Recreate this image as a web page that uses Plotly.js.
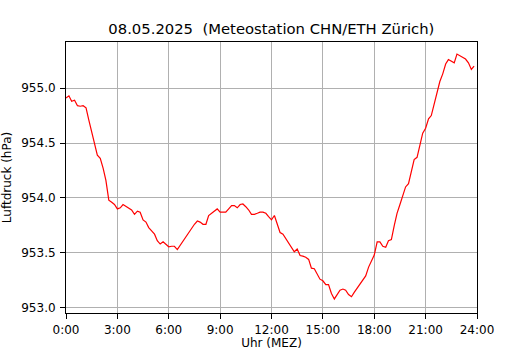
<!DOCTYPE html>
<html>
<head>
<meta charset="utf-8">
<script src="https://cdn.plot.ly/plotly-3.0.1.min.js"></script>
<style>html,body{margin:0;padding:0;background:#fff;}#chart{width:530px;height:350px;}</style>
</head>
<body>
<div id="chart"></div>
<script>
const hours = [0.0,0.17,0.33,0.5,0.67,0.83,1.0,1.17,1.33,1.5,1.67,1.83,2.0,2.17,2.33,2.5,2.67,2.83,3.0,3.17,3.33,3.5,3.67,3.83,4.0,4.17,4.33,4.5,4.67,4.83,5.0,5.17,5.33,5.5,5.67,5.83,6.0,6.17,6.33,6.5,6.67,6.83,7.0,7.17,7.33,7.5,7.67,7.83,8.0,8.17,8.33,8.5,8.67,8.83,9.0,9.17,9.33,9.5,9.67,9.83,10.0,10.17,10.33,10.5,10.67,10.83,11.0,11.17,11.33,11.5,11.67,11.83,12.0,12.17,12.33,12.5,12.67,12.83,13.0,13.17,13.33,13.5,13.67,13.83,14.0,14.17,14.33,14.5,14.67,14.83,15.0,15.17,15.33,15.5,15.67,15.83,16.0,16.17,16.33,16.5,16.67,16.83,17.0,17.17,17.33,17.5,17.67,17.83,18.0,18.17,18.33,18.5,18.67,18.83,19.0,19.17,19.33,19.5,19.67,19.83,20.0,20.17,20.33,20.5,20.67,20.83,21.0,21.17,21.33,21.5,21.67,21.83,22.0,22.17,22.33,22.5,22.67,22.83,23.0,23.17,23.33,23.5,23.67,23.83];
const pressure = [954.91,954.93,954.88,954.89,954.84,954.835,954.84,954.82,954.71,954.60,954.48,954.39,954.36,954.27,954.16,953.98,953.96,953.94,953.90,953.91,953.94,953.925,953.91,953.89,953.85,953.88,953.87,953.80,953.78,953.73,953.70,953.67,953.61,953.58,953.60,953.58,953.555,953.56,953.56,953.53,953.57,953.61,953.65,953.69,953.72,953.76,953.79,953.78,953.76,953.76,953.84,953.86,953.88,953.90,953.87,953.87,953.87,953.90,953.93,953.93,953.91,953.94,953.945,953.92,953.89,953.85,953.85,953.86,953.87,953.87,953.86,953.83,953.80,953.84,953.77,953.685,953.67,953.63,953.59,953.55,953.51,953.535,953.475,953.47,953.46,953.44,953.36,953.355,953.30,953.26,953.245,953.21,953.21,953.13,953.08,953.12,953.16,953.17,953.16,953.12,953.10,953.14,953.18,953.21,953.25,953.29,953.37,953.43,953.48,953.60,953.60,953.56,953.55,953.61,953.62,953.75,953.86,953.94,954.02,954.10,954.13,954.25,954.35,954.37,954.50,954.59,954.635,954.72,954.75,954.86,954.98,955.06,955.13,955.22,955.26,955.245,955.23,955.31,955.295,955.28,955.265,955.23,955.17,955.20];
const xTickVals = [0,3,6,9,12,15,18,21,24];
const xTickText = ["0:00","3:00","6:00","9:00","12:00","15:00","18:00","21:00","24:00"];
const titleText = "08.05.2025  (Meteostation CHN/ETH Zürich)";

const font = {family: "DejaVu Sans, sans-serif", size: 12, color: "#000"};
const axisCommon = {
  showline: true, linecolor: "#000", linewidth: 1, mirror: true,
  ticks: "outside", ticklen: 5, tickwidth: 1, tickcolor: "#000",
  showgrid: true, gridcolor: "#b0b0b0", gridwidth: 1,
  zeroline: false, tickfont: font
};
Plotly.newPlot("chart", [{
  x: hours, y: pressure, type: "scatter", mode: "lines",
  line: {color: "#ff0000", width: 1.2}, hoverinfo: "skip"
}], {
  width: 530, height: 350,
  margin: {l: 66, r: 53, t: 42, b: 37},
  paper_bgcolor: "#fff", plot_bgcolor: "#fff",
  font: font, showlegend: false,
  title: {text: titleText, font: {family: "DejaVu Sans, sans-serif", size: 14.8, color: "#000"}, x: 0.512, xanchor: "center", y: 0.917, yanchor: "middle"},
  xaxis: Object.assign({}, axisCommon, {
    range: [0, 24], tickvals: xTickVals, ticktext: xTickText,
    ticklabelstandoff: 1,
    title: {text: "Uhr (MEZ)", font: font, standoff: 7}
  }),
  yaxis: Object.assign({}, axisCommon, {
    range: [952.952, 955.42], dtick: 0.5, tick0: 953, tickformat: ".1f",
    ticklabelstandoff: 2,
    title: {text: "Luftdruck (hPa)", font: font, standoff: 8}
  })
}, {staticPlot: true, displayModeBar: false});
</script>
</body>
</html>
